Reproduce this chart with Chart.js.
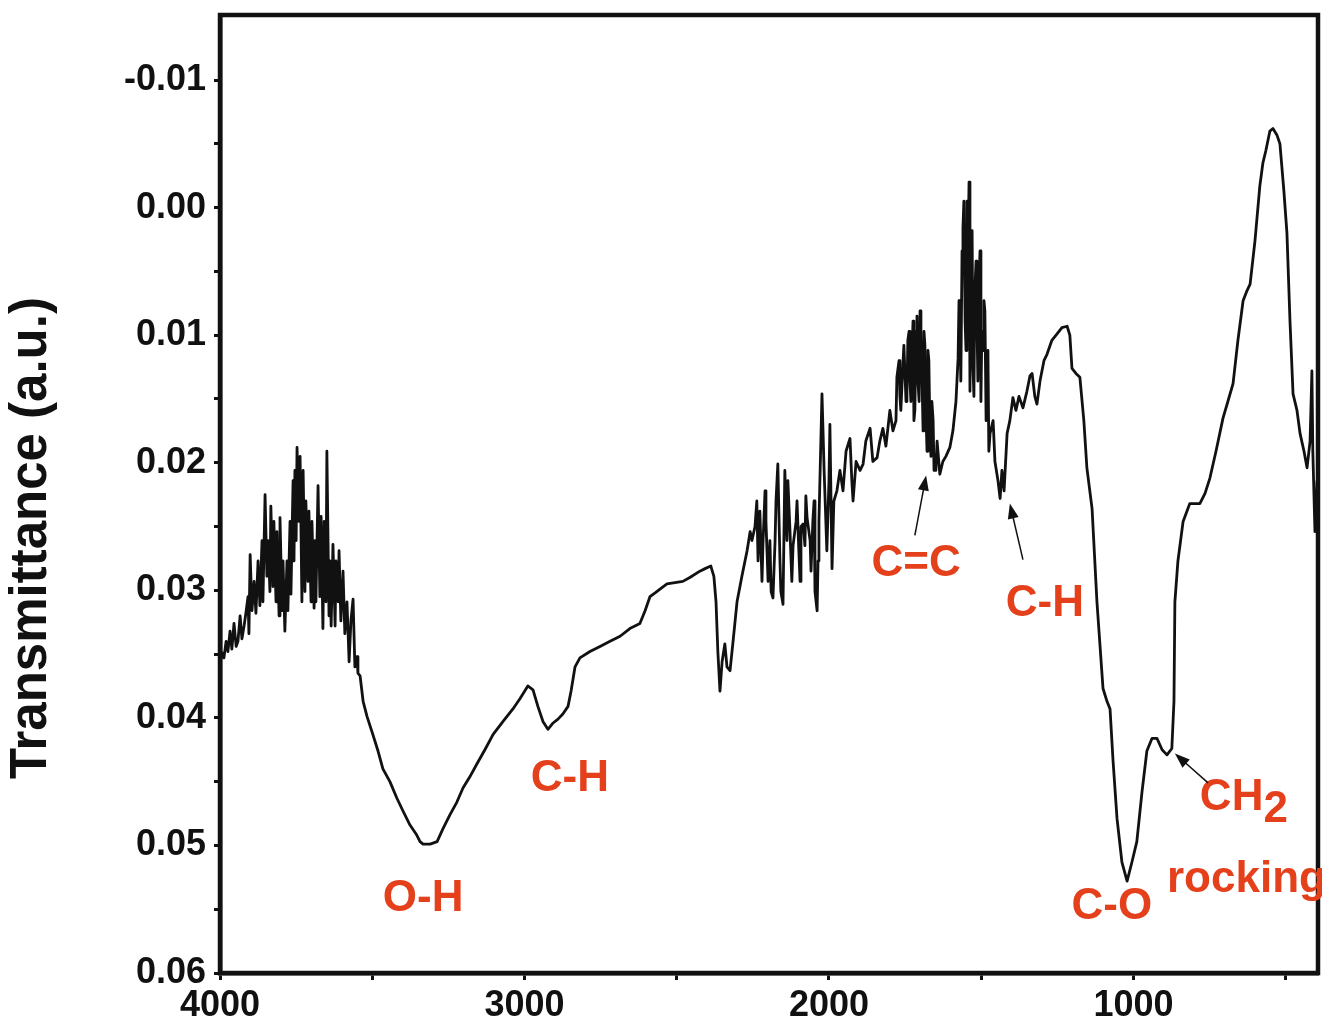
<!DOCTYPE html>
<html>
<head>
<meta charset="utf-8">
<title>FTIR spectrum</title>
<script src="https://cdn.jsdelivr.net/npm/chart.js@4.4.1/dist/chart.umd.min.js"></script>
<style>
  html, body { margin: 0; padding: 0; background: #ffffff; }
  #wrap { width: 1322px; height: 1023px; position: relative; }
</style>
</head>
<body>
<div id="wrap"><canvas id="c" width="1322" height="1023"></canvas></div>
<script>
// Spectrum readings (wavenumber in cm-1, transmittance in a.u.)

// 4000-3530: noisy high-wavenumber band
const wnHigh = [
  4000, 3993, 3987, 3980, 3974, 3967, 3961, 3954, 3947, 3941, 3934, 3928, 3921, 3915, 3908, 3905,
  3901, 3895, 3888, 3882, 3875, 3869, 3862, 3859, 3852, 3846, 3842, 3836, 3833, 3826, 3823, 3816,
  3813, 3806, 3803, 3796, 3793, 3787, 3780, 3777, 3770, 3767, 3760, 3757, 3754, 3750, 3747, 3741,
  3737, 3731, 3727, 3721, 3718, 3711, 3708, 3701, 3698, 3691, 3688, 3685, 3678, 3672, 3668, 3662,
  3658, 3652, 3649, 3642, 3639, 3635, 3629, 3622, 3619, 3612, 3609, 3603, 3596, 3590, 3583, 3576,
  3570, 3563, 3557, 3550, 3547, 3540, 3530
];
const trHigh = [
  0.0356, 0.0349, 0.0353, 0.0340, 0.0348, 0.0332, 0.0346, 0.0326, 0.0344, 0.0340, 0.0320, 0.0338, 0.0328, 0.0318, 0.0305, 0.0334,
  0.0272, 0.0316, 0.0293, 0.0318, 0.0277, 0.0312, 0.0261, 0.0309, 0.0225, 0.0289, 0.0261, 0.0301, 0.0234, 0.0297, 0.0246, 0.0309,
  0.0254, 0.0320, 0.0243, 0.0316, 0.0277, 0.0332, 0.0277, 0.0316, 0.0246, 0.0303, 0.0214, 0.0277, 0.0206, 0.0261, 0.0188, 0.0246,
  0.0195, 0.0309, 0.0206, 0.0301, 0.0230, 0.0293, 0.0238, 0.0309, 0.0246, 0.0314, 0.0261, 0.0309, 0.0218, 0.0305, 0.0242, 0.0330,
  0.0246, 0.0309, 0.0191, 0.0320, 0.0277, 0.0328, 0.0264, 0.0328, 0.0277, 0.0309, 0.0269, 0.0324, 0.0285, 0.0334, 0.0309, 0.0356,
  0.0324, 0.0307, 0.0360, 0.0352, 0.0365, 0.0367, 0.0387
];

// 3517-2259: O-H and C-H stretch region, CO2 doublet
const wnMid = [
  3517, 3498, 3481, 3465, 3442, 3419, 3399, 3376, 3356, 3343, 3333, 3310, 3287, 3268, 3245, 3222,
  3202, 3179, 3156, 3130, 3103, 3071, 3038, 3015, 2989, 2972, 2956, 2939, 2923, 2906, 2890, 2874,
  2857, 2847, 2834, 2818, 2785, 2752, 2719, 2686, 2654, 2621, 2604, 2588, 2571, 2555, 2532, 2506,
  2480, 2457, 2424, 2407, 2388, 2378, 2371, 2365, 2358, 2351, 2342, 2335, 2325, 2315, 2302, 2286,
  2269, 2259
];
const trMid = [
  0.0399, 0.0413, 0.0426, 0.0440, 0.0450, 0.0463, 0.0473, 0.0484, 0.0491, 0.0497, 0.0499, 0.0499, 0.0497, 0.0487, 0.0476, 0.0466,
  0.0455, 0.0446, 0.0436, 0.0425, 0.0413, 0.0403, 0.0393, 0.0385, 0.0375, 0.0378, 0.0391, 0.0403, 0.0409, 0.0404, 0.0401, 0.0397,
  0.0391, 0.0379, 0.0360, 0.0353, 0.0348, 0.0344, 0.0340, 0.0336, 0.0330, 0.0326, 0.0316, 0.0305, 0.0302, 0.0299, 0.0295, 0.0294,
  0.0293, 0.0290, 0.0285, 0.0283, 0.0281, 0.0289, 0.0309, 0.0348, 0.0379, 0.0356, 0.0342, 0.0360, 0.0363, 0.0340, 0.0309, 0.0289,
  0.0269, 0.0254
];

// 2253-397: fingerprint region
const wnLow = [
  2253, 2243, 2233, 2227, 2217, 2207, 2200, 2194, 2184, 2177, 2168, 2161, 2151, 2145, 2138, 2128,
  2118, 2108, 2099, 2092, 2085, 2079, 2072, 2062, 2053, 2046, 2039, 2033, 2023, 2016, 2007, 2000,
  1997, 1990, 1984, 1974, 1964, 1954, 1944, 1931, 1925, 1921, 1911, 1898, 1888, 1879, 1865, 1856,
  1842, 1833, 1823, 1813, 1800, 1790, 1777, 1767, 1757, 1747, 1741, 1734, 1727, 1721, 1714, 1708,
  1701, 1695, 1688, 1681, 1675, 1668, 1662, 1655, 1645, 1636, 1626, 1616, 1603, 1593, 1583, 1576,
  1570, 1563, 1560, 1553, 1547, 1540, 1534, 1527, 1521, 1514, 1504, 1498, 1494, 1488, 1481, 1471,
  1461, 1455, 1445, 1438, 1432, 1425, 1415, 1406, 1396, 1386, 1376, 1363, 1350, 1340, 1333, 1324,
  1317, 1307, 1294, 1284, 1268, 1251, 1235, 1218, 1209, 1202, 1189, 1176, 1163, 1153, 1136, 1120,
  1100, 1087, 1077, 1067, 1054, 1038, 1021, 1005, 989, 972, 956, 939, 923, 906, 890, 874,
  867, 864, 854, 837, 815, 782, 765, 749, 729, 706, 690, 673, 657, 640, 627, 617,
  601, 585, 575, 565, 552, 542, 529, 519, 506, 496, 486, 476, 463, 453, 440, 430,
  420, 414, 411, 404, 397
];
const trLow = [
  0.0261, 0.0250, 0.0277, 0.0238, 0.0265, 0.0246, 0.0293, 0.0261, 0.0306, 0.0261, 0.0201, 0.0277, 0.0311, 0.0206, 0.0261, 0.0254,
  0.0265, 0.0246, 0.0269, 0.0250, 0.0248, 0.0265, 0.0243, 0.0261, 0.0246, 0.0301, 0.0316, 0.0246, 0.0146, 0.0206, 0.0269, 0.0214,
  0.0170, 0.0283, 0.0230, 0.0222, 0.0206, 0.0222, 0.0191, 0.0181, 0.0214, 0.0230, 0.0199, 0.0206, 0.0201, 0.0183, 0.0173, 0.0199,
  0.0196, 0.0183, 0.0173, 0.0187, 0.0159, 0.0175, 0.0133, 0.0148, 0.0122, 0.0152, 0.0104, 0.0136, 0.0112, 0.0167, 0.0097, 0.0136,
  0.0081, 0.0128, 0.0097, 0.0167, 0.0112, 0.0183, 0.0152, 0.0206, 0.0183, 0.0209, 0.0199, 0.0195, 0.0188, 0.0175, 0.0152, 0.0118,
  0.0097, 0.0034, 0.0016, 0.0089, -0.0005, -0.0020, 0.0073, 0.0126, 0.0065, 0.0089, 0.0034, 0.0097, 0.0112, 0.0081, 0.0152, 0.0177,
  0.0167, 0.0199, 0.0214, 0.0228, 0.0206, 0.0222, 0.0177, 0.0167, 0.0149, 0.0159, 0.0148, 0.0157, 0.0144, 0.0132, 0.0130, 0.0148,
  0.0154, 0.0136, 0.0120, 0.0115, 0.0104, 0.0099, 0.0094, 0.0093, 0.0100, 0.0126, 0.0130, 0.0133, 0.0167, 0.0204, 0.0236, 0.0309,
  0.0377, 0.0387, 0.0393, 0.0434, 0.0479, 0.0513, 0.0528, 0.0513, 0.0497, 0.0458, 0.0426, 0.0416, 0.0416, 0.0425, 0.0429, 0.0424,
  0.0387, 0.0309, 0.0277, 0.0246, 0.0232, 0.0232, 0.0224, 0.0212, 0.0191, 0.0165, 0.0152, 0.0138, 0.0104, 0.0073, 0.0065, 0.0060,
  0.0026, -0.0017, -0.0035, -0.0045, -0.0060, -0.0062, -0.0057, -0.0050, -0.0013, 0.0020, 0.0089, 0.0146, 0.0159, 0.0177, 0.0191, 0.0204,
  0.0183, 0.0128, 0.0191, 0.0254, 0.0214
];

// Extra readings inside the noisiest stretches (2240-2030, 1780-1650, 1575-1475)
const wnFine = [
  2237, 2220, 2210, 2190, 2174, 2158, 2135, 2122, 2105, 2095, 2076, 2059, 2049, 2036,
  1780, 1770, 1764, 1754, 1744, 1737, 1731, 1724, 1718, 1711, 1704, 1698, 1691, 1685, 1678, 1672, 1665, 1658, 1649,
  1573, 1567, 1557, 1550, 1544, 1537, 1530, 1524, 1517, 1511, 1507, 1501, 1491, 1484, 1478, 1475
];
const trFine = [
  0.0230, 0.0293, 0.0222, 0.0301, 0.0230, 0.0301, 0.0214, 0.0293, 0.0230, 0.0293, 0.0226, 0.0285, 0.0230, 0.0277,
  0.0167, 0.0120, 0.0159, 0.0108, 0.0148, 0.0097, 0.0152, 0.0089, 0.0159, 0.0085, 0.0152, 0.0097, 0.0175, 0.0108, 0.0191, 0.0120, 0.0195, 0.0167, 0.0206,
  0.0073, 0.0136, -0.0005, 0.0112, 0.0042, 0.0144, 0.0018, 0.0148, 0.0042, 0.0136, 0.0057, 0.0152, 0.0073, 0.0167, 0.0112, 0.0191
];

// Axis ranges and tick positions
const xRange = [394, 4000];
const yRange = [-0.0151, 0.06];
const xTicks = [4000, 3500, 3000, 2500, 2000, 1500, 1000, 500];
const yTicks = [-0.01, -0.005, 0, 0.005, 0.01, 0.015, 0.02, 0.025, 0.03, 0.035, 0.04, 0.045, 0.05, 0.055, 0.06];

// Band assignments: label text and where they sit (wavenumber, transmittance)
const bandLabels = ['O-H', 'C-H', 'C=C', 'C-H', 'C-O'];
const bandLabelX = [3333, 2851, 1714, 1291, 1071];
const bandLabelY = [0.0542, 0.0448, 0.0279, 0.0311, 0.0548];

// CH2 rocking label (left edge wavenumber, centre transmittance)
const rockLabelX = [782, 890];
const rockLabelY = [0.0463, 0.0527];

// Pointer arrows: start (tail) and tip, in data units
const arrowTailX = [1718, 1363, 755];
const arrowTailY = [0.0257, 0.0276, 0.0451];
const arrowTipX  = [1681, 1406, 864];
const arrowTipY  = [0.0210, 0.0232, 0.0428];

const INK = '#111111';
const RED = '#e5401c';
const FONT = '"Liberation Sans", Arial, Helvetica, sans-serif';

const wavenumbers = wnHigh.concat(wnMid, wnLow, wnFine);
const transmittance = trHigh.concat(trMid, trLow, trFine);
// spectrum is traced from high to low wavenumber
const points = wavenumbers
  .map((w, i) => ({ x: w, y: transmittance[i] }))
  .sort((a, b) => b.x - a.x);

const framePlugin = {
  id: 'frame',
  afterDraw(chart) {
    const { ctx, chartArea: a, scales } = chart;
    const px = v => scales.x.getPixelForValue(v);
    const py = v => scales.y.getPixelForValue(v);
    ctx.save();

    // plot frame
    ctx.strokeStyle = INK;
    ctx.lineWidth = 4.5;
    ctx.strokeRect(a.left, a.top, a.right - a.left, a.bottom - a.top);

    // y axis title
    ctx.save();
    ctx.translate(a.left - 188, a.top + 523);
    ctx.rotate(-Math.PI / 2);
    ctx.font = 'bold 51px ' + FONT;
    ctx.fillStyle = INK;
    ctx.textAlign = 'center';
    ctx.textBaseline = 'middle';
    ctx.fillText('Transmittance (a.u.)', 0, 0);
    ctx.restore();

    // band labels
    ctx.fillStyle = RED;
    ctx.font = 'bold 44px ' + FONT;
    ctx.textAlign = 'center';
    ctx.textBaseline = 'middle';
    bandLabels.forEach((t, i) => ctx.fillText(t, px(bandLabelX[i]), py(bandLabelY[i])));

    // CH2 rocking
    ctx.textAlign = 'left';
    const chX = px(rockLabelX[0]), chY = py(rockLabelY[0]);
    ctx.fillText('CH', chX, chY);
    const chW = ctx.measureText('CH').width;
    ctx.fillText('2', chX + chW, chY + 12);
    ctx.fillText('rocking', px(rockLabelX[1]), py(rockLabelY[1]));

    // arrows
    ctx.strokeStyle = INK;
    ctx.fillStyle = INK;
    ctx.lineWidth = 1.5;
    arrowTailX.forEach((_, i) => {
      const x0 = px(arrowTailX[i]), y0 = py(arrowTailY[i]);
      const x1 = px(arrowTipX[i]), y1 = py(arrowTipY[i]);
      const ang = Math.atan2(y1 - y0, x1 - x0);
      const hl = 15, hw = 5.5;
      ctx.beginPath();
      ctx.moveTo(x0, y0);
      ctx.lineTo(x1 - Math.cos(ang) * hl * 0.8, y1 - Math.sin(ang) * hl * 0.8);
      ctx.stroke();
      ctx.beginPath();
      ctx.moveTo(x1, y1);
      ctx.lineTo(x1 - Math.cos(ang) * hl - Math.sin(ang) * hw, y1 - Math.sin(ang) * hl + Math.cos(ang) * hw);
      ctx.lineTo(x1 - Math.cos(ang) * hl + Math.sin(ang) * hw, y1 - Math.sin(ang) * hl - Math.cos(ang) * hw);
      ctx.closePath();
      ctx.fill();
    });
    ctx.restore();
  }
};

new Chart(document.getElementById('c'), {
  type: 'line',
  data: {
    datasets: [{
      data: points,
      borderColor: INK,
      borderWidth: 2.8,
      borderJoinStyle: 'round',
      pointRadius: 0,
      tension: 0,
      fill: false
    }]
  },
  options: {
    responsive: false,
    animation: false,
    devicePixelRatio: 1,
    layout: { padding: { top: 15, right: 4, left: 0, bottom: 0 } },
    plugins: { legend: { display: false }, tooltip: { enabled: false } },
    scales: {
      x: {
        type: 'linear',
        reverse: true,
        min: xRange[0],
        max: xRange[1],
        afterBuildTicks: s => { s.ticks = xTicks.map(v => ({ value: v })); },
        afterFit: s => { s.height = 50; s.paddingLeft = 0; s.paddingRight = 0; },
        grid: { drawOnChartArea: false, drawTicks: true, tickLength: 7, tickWidth: 3, tickColor: INK },
        border: { display: true, width: 4.5, color: INK },
        ticks: {
          autoSkip: false,
          maxRotation: 0,
          padding: 4,
          color: INK,
          font: { family: FONT, size: 36, weight: 'bold' },
          callback: v => (v % 1000 === 0 ? String(v) : '')
        }
      },
      y: {
        type: 'linear',
        reverse: true,
        min: yRange[0],
        max: yRange[1],
        afterBuildTicks: s => { s.ticks = yTicks.map(v => ({ value: v })); },
        afterFit: s => { s.width = 220; s.paddingTop = 0; s.paddingBottom = 0; },
        grid: { drawOnChartArea: false, drawTicks: true, tickLength: 6, tickWidth: 3, tickColor: INK },
        border: { display: true, width: 4.5, color: INK },
        ticks: {
          autoSkip: false,
          padding: 8,
          color: INK,
          font: { family: FONT, size: 36, weight: 'bold' },
          callback: v => {
            const h = Math.round(v * 200);
            return h % 2 === 0 ? (h / 200).toFixed(2) : '';
          }
        }
      }
    }
  },
  plugins: [framePlugin]
});
</script>
</body>
</html>
